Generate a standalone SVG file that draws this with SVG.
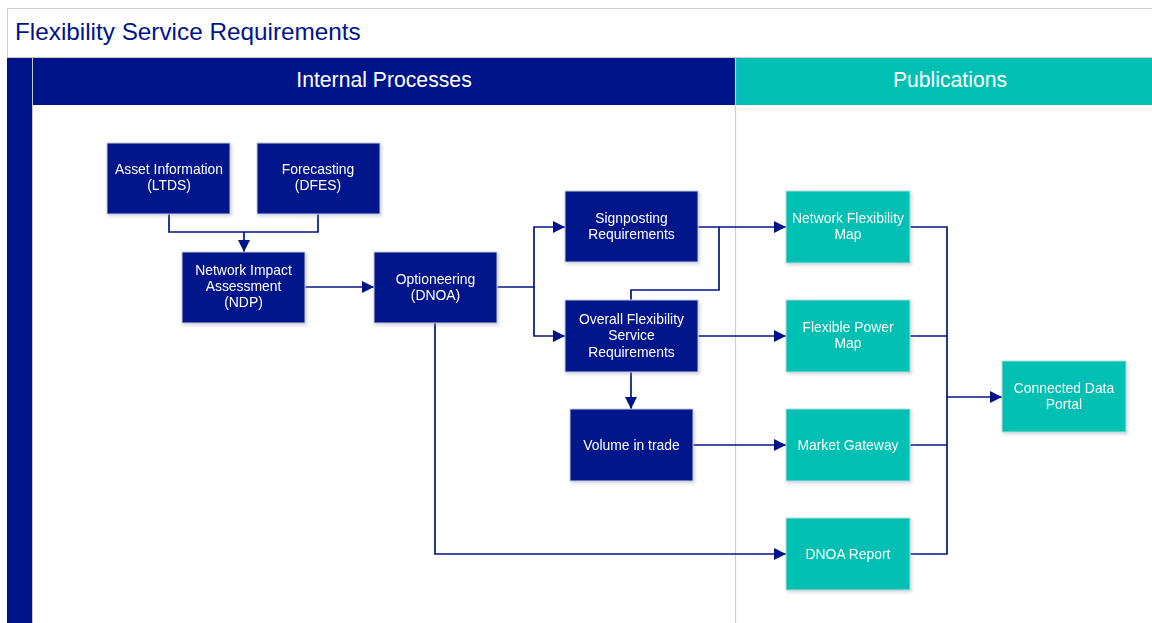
<svg xmlns="http://www.w3.org/2000/svg" width="1152" height="623" viewBox="0 0 1152 623">
<style>
.t{font-family:"Liberation Sans",Arial,sans-serif;}
.nav{fill:#00148A;stroke:#C8CCDD;stroke-width:1;}
.tea{fill:#00BFB3;stroke:#B8DCD8;stroke-width:1;}
.nt{font-family:"Liberation Sans",Arial,sans-serif;font-size:13.9px;fill:#FFFFFF;text-anchor:middle;}
.c{fill:none;stroke:#00148A;stroke-width:1.7;}
</style>
<defs>
<marker id="ah" markerUnits="userSpaceOnUse" markerWidth="13" markerHeight="13" viewBox="0 0 13 13" refX="12" refY="6.5" orient="auto">
<path d="M0,0.5 L12,6.5 L0,12.5 Z" fill="#00148A"/>
</marker>
<filter id="sh" x="-10%" y="-10%" width="130%" height="130%">
<feDropShadow dx="1.5" dy="2" stdDeviation="1.5" flood-color="#8890B0" flood-opacity="0.35"/>
</filter>
</defs>
<rect x="0" y="0" width="1152" height="623" fill="#FFFFFF"/>
<g id="frame">
<rect x="7.5" y="8.5" width="1150" height="620" fill="#FFFFFF" stroke="#D0D0D0" stroke-width="1"/>
<text class="t" x="15" y="40" font-size="24.3" fill="#00148A">Flexibility Service Requirements</text>
<line x1="7" y1="57.5" x2="1152" y2="57.5" stroke="#C8C8C8" stroke-width="1"/>
<rect x="7" y="58" width="25" height="565" fill="#00148A"/>
<line x1="32.5" y1="58" x2="32.5" y2="623" stroke="#C8C8C8" stroke-width="1"/>
<rect x="33" y="58" width="702" height="47" fill="#00148A"/>
<text class="t" x="384" y="87" font-size="21.2" fill="#FFFFFF" text-anchor="middle">Internal Processes</text>
<rect x="736" y="58" width="416" height="47" fill="#00BFB3"/>
<text class="t" x="950" y="87" font-size="21.2" fill="#FFFFFF" text-anchor="middle">Publications</text>
<line x1="735.5" y1="58" x2="735.5" y2="623" stroke="#C8D0D0" stroke-width="1.2"/>
</g>
<g id="connectors">
<path class="c" d="M169,214 V232 H318 V214"/>
<path class="c" d="M244,232 V252" marker-end="url(#ah)"/>
<path class="c" d="M305,287 H374" marker-end="url(#ah)"/>
<path class="c" d="M497,287 H534 V227 H565" marker-end="url(#ah)"/>
<path class="c" d="M534,287 V336 H565" marker-end="url(#ah)"/>
<path class="c" d="M698,227 H786" marker-end="url(#ah)"/>
<path class="c" d="M631,300 V290 H719 V227"/>
<path class="c" d="M698,336 H786" marker-end="url(#ah)"/>
<path class="c" d="M631,372 V409" marker-end="url(#ah)"/>
<path class="c" d="M693,445 H786" marker-end="url(#ah)"/>
<path class="c" d="M435,323 V554 H786" marker-end="url(#ah)"/>
<path class="c" d="M910,227 H947 V554 H910"/>
<path class="c" d="M910,336 H947"/>
<path class="c" d="M910,445 H947"/>
<path class="c" d="M947,397 H1002" marker-end="url(#ah)"/>
</g>
<g id="asset" filter="url(#sh)">
<rect class="nav" x="107" y="143" width="123" height="71"/>
<text class="nt" x="169" y="174">Asset Information</text>
<text class="nt" x="169" y="190">(LTDS)</text>
</g>
<g id="forecasting" filter="url(#sh)">
<rect class="nav" x="257" y="143" width="123" height="71"/>
<text class="nt" x="318" y="174">Forecasting</text>
<text class="nt" x="318" y="190">(DFES)</text>
</g>
<g id="ndp" filter="url(#sh)">
<rect class="nav" x="182" y="252" width="123" height="71"/>
<text class="nt" x="243.5" y="275">Network Impact</text>
<text class="nt" x="243.5" y="291">Assessment</text>
<text class="nt" x="243.5" y="307">(NDP)</text>
</g>
<g id="optioneering" filter="url(#sh)">
<rect class="nav" x="374" y="252" width="123" height="71"/>
<text class="nt" x="435.5" y="284">Optioneering</text>
<text class="nt" x="435.5" y="300">(DNOA)</text>
</g>
<g id="signposting" filter="url(#sh)">
<rect class="nav" x="565" y="191" width="133" height="71"/>
<text class="nt" x="631.5" y="223">Signposting</text>
<text class="nt" x="631.5" y="239">Requirements</text>
</g>
<g id="overall" filter="url(#sh)">
<rect class="nav" x="565" y="300" width="133" height="72"/>
<text class="nt" x="631.5" y="324">Overall Flexibility</text>
<text class="nt" x="631.5" y="340">Service</text>
<text class="nt" x="631.5" y="357">Requirements</text>
</g>
<g id="volume" filter="url(#sh)">
<rect class="nav" x="570" y="409" width="123" height="72"/>
<text class="nt" x="631.5" y="450">Volume in trade</text>
</g>
<g id="nfm" filter="url(#sh)">
<rect class="tea" x="786" y="191" width="124" height="72"/>
<text class="nt" x="848" y="223">Network Flexibility</text>
<text class="nt" x="848" y="239">Map</text>
</g>
<g id="fpm" filter="url(#sh)">
<rect class="tea" x="786" y="300" width="124" height="72"/>
<text class="nt" x="848" y="332">Flexible Power</text>
<text class="nt" x="848" y="348">Map</text>
</g>
<g id="market" filter="url(#sh)">
<rect class="tea" x="786" y="409" width="124" height="72"/>
<text class="nt" x="848" y="450">Market Gateway</text>
</g>
<g id="dnoareport" filter="url(#sh)">
<rect class="tea" x="786" y="518" width="124" height="72"/>
<text class="nt" x="848" y="559">DNOA Report</text>
</g>
<g id="portal" filter="url(#sh)">
<rect class="tea" x="1002" y="361" width="124" height="71"/>
<text class="nt" x="1064" y="393">Connected Data</text>
<text class="nt" x="1064" y="409">Portal</text>
</g>
</svg>
